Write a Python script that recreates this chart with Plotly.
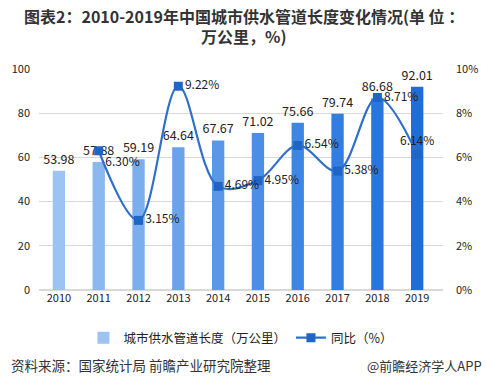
import plotly.graph_objects as go

years = ["2010", "2011", "2012", "2013", "2014", "2015", "2016", "2017", "2018", "2019"]
length_wan_km = [53.98, 57.88, 59.19, 64.64, 67.67, 71.02, 75.66, 79.74, 86.68, 92.01]
yoy_years = ["2011", "2012", "2013", "2014", "2015", "2016", "2017", "2018", "2019"]
yoy_pct = [6.30, 3.15, 9.22, 4.69, 4.95, 6.54, 5.38, 8.71, 6.14]
yoy_text_pos = ["bottom right", "middle right", "middle right", "middle right", "middle right",
                "middle right", "middle right", "middle right", "top center"]

bar_colors = ["#9DC3F3", "#8CB8F0", "#7BAEED", "#6AA3EA", "#5A98E7",
              "#4B8EE5", "#3E86E3", "#327DE0", "#2875DD", "#1F6DD9"]

font_family = "Microsoft YaHei, Noto Sans CJK SC, sans-serif"

PLOT_TOP, PLOT_BOTTOM = 69, 290
PH = PLOT_BOTTOM - PLOT_TOP


def py(pixel_y):
    return (PLOT_BOTTOM - pixel_y) / PH


fig = go.Figure()
fig.add_trace(go.Bar(
    x=years, y=length_wan_km, name="城市供水管道长度（万公里）",
    marker=dict(color=bar_colors, line=dict(width=0)),
    text=[f"{v:.2f}" for v in length_wan_km], textposition="outside",
    textfont=dict(size=12.5, color="#222"), cliponaxis=False, constraintext="none",
    width=0.31,
))
fig.add_trace(go.Scatter(
    x=yoy_years, y=yoy_pct, name="同比（%）", yaxis="y2",
    mode="lines+markers+text",
    line=dict(color="#2F6FCC", width=2.2, shape="spline", smoothing=1.0),
    marker=dict(symbol="square", size=9, color="#1F65C6"),
    text=[f"{v:.2f}%" for v in yoy_pct], textposition=yoy_text_pos,
    textfont=dict(size=12, color="#222"), cliponaxis=False,
))

fig.update_layout(
    width=492, height=379,
    margin=dict(l=35, r=49, t=PLOT_TOP, b=379 - PLOT_BOTTOM),
    paper_bgcolor="white", plot_bgcolor="white",
    font=dict(family=font_family, size=11, color="#333"),
    showlegend=True,
    legend=dict(orientation="h", x=0.11, xanchor="left", y=py(323), yanchor="top",
                font=dict(size=12.5, color="#222"), itemwidth=30, traceorder="normal"),
    xaxis=dict(showgrid=False, showline=False, ticks="", tickfont=dict(size=11, color="#222")),
    yaxis=dict(range=[0, 100], dtick=20, showgrid=True, gridcolor="#D9D9D9", gridwidth=1,
               zeroline=True, zerolinecolor="#D9D9D9", tickfont=dict(size=11, color="#222"),
               ticklabelstandoff=8),
    yaxis2=dict(range=[0, 10], dtick=2, overlaying="y", side="right", showgrid=False,
                zeroline=False, ticksuffix="%", tickfont=dict(size=11, color="#222"),
                ticklabelstandoff=12),
)

title_lines = ["图表2：2010-2019年中国城市供水管道长度变化情况(单 位 ：", "万公里，%)"]
title_y = [16.5, 36]
for line, ty in zip(title_lines, title_y):
    fig.add_annotation(text=f"<b>{line}</b>", xref="paper", yref="paper",
                       x=(242 - 35) / 408, xanchor="center", y=py(ty), yanchor="middle",
                       showarrow=False, font=dict(size=16, color="#333"))

fig.add_annotation(text="资料来源：国家统计局 前瞻产业研究院整理", xref="paper", yref="paper",
                   x=-30 / 408, xanchor="left", y=py(365), yanchor="middle", showarrow=False,
                   font=dict(size=13.5, color="#333"))
fig.add_annotation(text="@前瞻经济学人APP", xref="paper", yref="paper",
                   x=(484 - 35) / 408, xanchor="right", y=py(365), yanchor="middle", showarrow=False,
                   font=dict(size=13, color="#333"))

fig.write_html("out.html", config={"displayModeBar": False})

with open("out.html", "r", encoding="utf-8") as f:
    html = f.read()
html = html.replace("<head>", "<head><style>html,body{margin:0;padding:0;overflow:hidden;}</style>", 1)
with open("out.html", "w", encoding="utf-8") as f:
    f.write(html)
